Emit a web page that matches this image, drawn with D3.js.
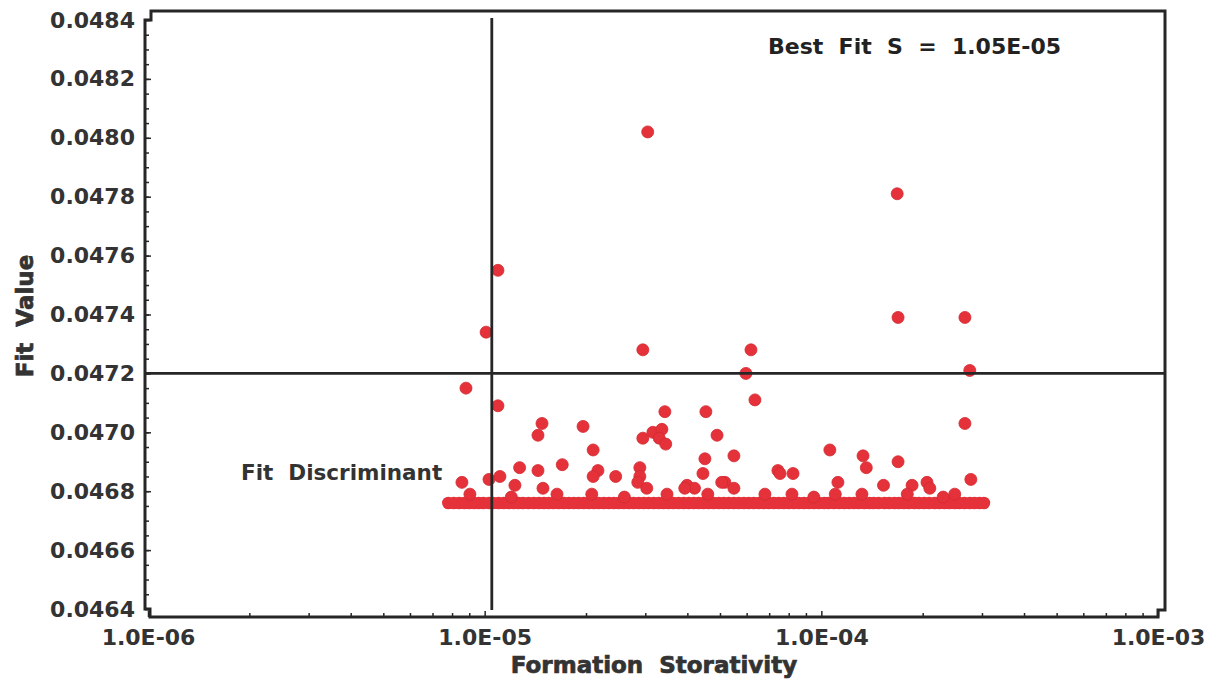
<!DOCTYPE html>
<html>
<head>
<meta charset="utf-8">
<script src="https://cdn.jsdelivr.net/npm/d3@7/dist/d3.min.js"></script>
<style>
  html, body { margin: 0; padding: 0; background: #fff; }
  svg { display: block; }
  .tick text { font-family: "DejaVu Sans", sans-serif; font-weight: bold; font-size: 22px; fill: #333; }
</style>
</head>
<body>
<svg id="chart" width="1212" height="683"></svg>
<script>
// Formation storativity (S) against fit value for each trial run
const scatterS = [
  3.05e-5, 1.68e-4, 1.69e-4, 2.67e-4, 2.76e-4, 2.67e-4, 2.78e-4,
  1.095e-5, 1.01e-5, 8.8e-6, 1.095e-5, 2.95e-5, 6.18e-5, 5.97e-5, 6.35e-5,
  3.43e-5, 4.54e-5, 4.9e-5, 1.48e-5, 1.44e-5, 1.96e-5, 2.10e-5,
  2.95e-5, 3.16e-5, 3.36e-5, 3.30e-5, 3.45e-5, 4.51e-5, 4.45e-5,
  1.27e-5, 1.44e-5, 1.70e-5, 2.17e-5, 2.10e-5, 2.45e-5, 2.89e-5, 2.89e-5, 2.85e-5, 3.03e-5,
  8.56e-6, 1.03e-5, 1.11e-5, 1.23e-5, 3.99e-5, 4.2e-5,
  5.5e-5, 5.17e-5, 5.5e-5, 7.43e-5, 8.24e-5, 1.06e-4, 1.12e-4, 1.33e-4, 1.36e-4,
  1.53e-4, 1.69e-4, 1.86e-4, 2.06e-4, 2.10e-4,
  9.04e-6, 1.49e-5, 1.64e-5, 2.08e-5, 3.48e-5, 6.80e-5, 8.18e-5, 1.10e-4, 1.32e-4, 2.49e-4,
  3.93e-5, 5.06e-5, 7.54e-5, 1.2e-5, 2.6e-5, 4.6e-5, 9.5e-5, 1.8e-4, 2.3e-4
];
const scatterFit = [
  0.04802, 0.04781, 0.04739, 0.04739, 0.04721, 0.04703, 0.04684,
  0.04755, 0.04734, 0.04715, 0.04709, 0.04728, 0.04728, 0.04720, 0.04711,
  0.04707, 0.04707, 0.04699, 0.04703, 0.04699, 0.04702, 0.04694,
  0.04698, 0.04700, 0.04701, 0.04698, 0.04696, 0.04691, 0.04686,
  0.04688, 0.04687, 0.04689, 0.04687, 0.04685, 0.04685, 0.04688, 0.04685, 0.04683, 0.04681,
  0.04683, 0.04684, 0.04685, 0.04682, 0.04682, 0.04681,
  0.04692, 0.04683, 0.04681, 0.04687, 0.04686, 0.04694, 0.04683, 0.04692, 0.04688,
  0.04682, 0.04690, 0.04682, 0.04683, 0.04681,
  0.04679, 0.04681, 0.04679, 0.04679, 0.04679, 0.04679, 0.04679, 0.04679, 0.04679, 0.04679,
  0.04681, 0.04683, 0.04686, 0.04678, 0.04678, 0.04679, 0.04678, 0.04679, 0.04678
];

// Runs that all settle on the floor fit value (in units of 1e-6)
const floorS = [
  7.8, 8.1, 8.4, 8.7, 9.0, 9.3, 9.6, 9.9, 10.3, 10.6, 11.0, 11.4, 11.8, 12.2, 12.6,
  13.0, 13.5, 14.0, 14.5, 15.0, 15.5, 16.0, 16.6, 17.2, 17.8, 18.4, 19.0, 19.7, 20.4,
  21.1, 21.8, 22.6, 23.4, 24.2, 25.0, 25.9, 26.8, 27.7, 28.7, 29.7, 30.7, 31.8, 32.9,
  34.0, 35.2, 36.4, 37.7, 39.0, 40.4, 41.8, 43.2, 44.7, 46.3, 47.9, 49.6, 51.3, 53.1,
  55.0, 56.9, 58.9, 60.9, 63.0, 65.2, 67.5, 69.9, 72.3, 74.8, 77.4, 80.1, 82.9, 85.8,
  88.8, 91.9, 95.1, 98.4, 102, 105, 109, 113, 117, 121, 125, 129, 134, 139, 143, 148,
  154, 159, 165, 170, 176, 182, 189, 195, 202, 209, 217, 224, 232, 240, 249, 257, 266,
  276, 285, 295, 304
];
const floorFit = 0.04676;

// Reference lines
const bestFitS = 1.05e-5;
const discriminant = 0.0472;

const xDecades = [1e-6, 1e-5, 1e-4, 1e-3];
const xTickLabels = ["1.0E-06", "1.0E-05", "1.0E-04", "1.0E-03"];
const yMajorTicks = [0.0464, 0.0466, 0.0468, 0.0470, 0.0472, 0.0474, 0.0476, 0.0478, 0.0480, 0.0482, 0.0484];
const yTickLabels = ["0.0464", "0.0466", "0.0468", "0.0470", "0.0472", "0.0474", "0.0476", "0.0478", "0.0480", "0.0482", "0.0484"];

const svg = d3.select("#chart");
const x = d3.scaleLog().domain([1e-6, 1e-3]).range([148, 1158]);
const y = d3.scaleLinear().domain([0.0464, 0.0484]).range([609, 20]);

const ink = "#262626";
const dotColor = "#e5323a";

// minor ticks
const xMinor = [];
xDecades.slice(0, 3).forEach(d => { for (let k = 2; k <= 9; k++) xMinor.push(d * k); });
const yMinor = [];
for (let i = 0; i <= 40; i++) yMinor.push(+(0.0464 + i * 0.00005).toFixed(5));

const gx = svg.append("g").attr("transform", "translate(0,617)");
gx.append("g").call(d3.axisBottom(x).tickValues(xMinor).tickSizeInner(-4).tickSizeOuter(0).tickFormat(""));
gx.append("g").call(d3.axisBottom(x).tickValues(xDecades).tickSizeInner(-6).tickSizeOuter(0).tickPadding(12)
  .tickFormat((d, i) => xTickLabels[i]));
gx.selectAll(".domain").remove();
gx.selectAll(".tick line").attr("stroke", ink).attr("stroke-width", 1.5);

const gy = svg.append("g").attr("transform", "translate(145,0)");
gy.append("g").call(d3.axisLeft(y).tickValues(yMinor).tickSizeInner(-4).tickSizeOuter(0).tickFormat(""));
gy.append("g").call(d3.axisLeft(y).tickValues(yMajorTicks).tickSizeInner(-6).tickSizeOuter(0).tickPadding(10)
  .tickFormat((d, i) => yTickLabels[i]));
gy.selectAll(".domain").remove();
gy.selectAll(".tick line").attr("stroke", ink).attr("stroke-width", 1.5);

// plot frame with stepped corners
svg.append("path")
  .attr("d", "M145,20 L145,609 L150,609 L150,617 L1158,617 L1158,610 L1165,610 L1165,11 L151,11 L151,20 Z")
  .attr("fill", "none").attr("stroke", ink).attr("stroke-width", 3);

// floor band
svg.append("g").selectAll("circle")
  .data(floorS)
  .join("circle")
  .attr("cx", d => x(d * 1e-6))
  .attr("cy", y(floorFit))
  .attr("r", 6.3)
  .attr("fill", dotColor);

// individual runs
svg.append("g").selectAll("circle")
  .data(scatterS.map((s, i) => [s, scatterFit[i]]))
  .join("circle")
  .attr("cx", d => x(d[0]))
  .attr("cy", d => y(d[1]))
  .attr("r", 6)
  .attr("fill", dotColor)
  .attr("stroke", "#d22a31")
  .attr("stroke-width", 0.8);

// discriminant and best-fit lines
svg.append("line")
  .attr("x1", 145).attr("x2", 1165)
  .attr("y1", y(discriminant)).attr("y2", y(discriminant))
  .attr("stroke", ink).attr("stroke-width", 2.8);
svg.append("line")
  .attr("x1", x(bestFitS)).attr("x2", x(bestFitS))
  .attr("y1", 18).attr("y2", 610)
  .attr("stroke", ink).attr("stroke-width", 2.8);

// annotations
svg.append("text")
  .attr("x", 768).attr("y", 54)
  .attr("font-family", "DejaVu Sans, sans-serif").attr("font-weight", "bold").attr("font-size", 22)
  .attr("fill", "#222").attr("xml:space", "preserve")
  .text("Best  Fit  S  =  1.05E-05");

svg.append("text")
  .attr("x", 241).attr("y", 480)
  .attr("font-family", "DejaVu Sans, sans-serif").attr("font-weight", "bold").attr("font-size", 21.5)
  .attr("fill", "#333")
  .attr("xml:space", "preserve")
  .text("Fit  Discriminant");

// axis titles
svg.append("text")
  .attr("x", 654).attr("y", 673)
  .attr("text-anchor", "middle")
  .attr("font-family", "DejaVu Sans, sans-serif").attr("font-weight", "bold").attr("font-size", 23)
  .attr("fill", "#333").attr("stroke", "#333").attr("stroke-width", 0.7)
  .attr("xml:space", "preserve")
  .text("Formation  Storativity");

svg.append("text")
  .attr("transform", "translate(33,316) rotate(-90)")
  .attr("text-anchor", "middle")
  .attr("font-family", "DejaVu Sans, sans-serif").attr("font-weight", "bold").attr("font-size", 23)
  .attr("fill", "#333").attr("stroke", "#333").attr("stroke-width", 0.7)
  .attr("xml:space", "preserve")
  .text("Fit  Value");
</script>
</body>
</html>
